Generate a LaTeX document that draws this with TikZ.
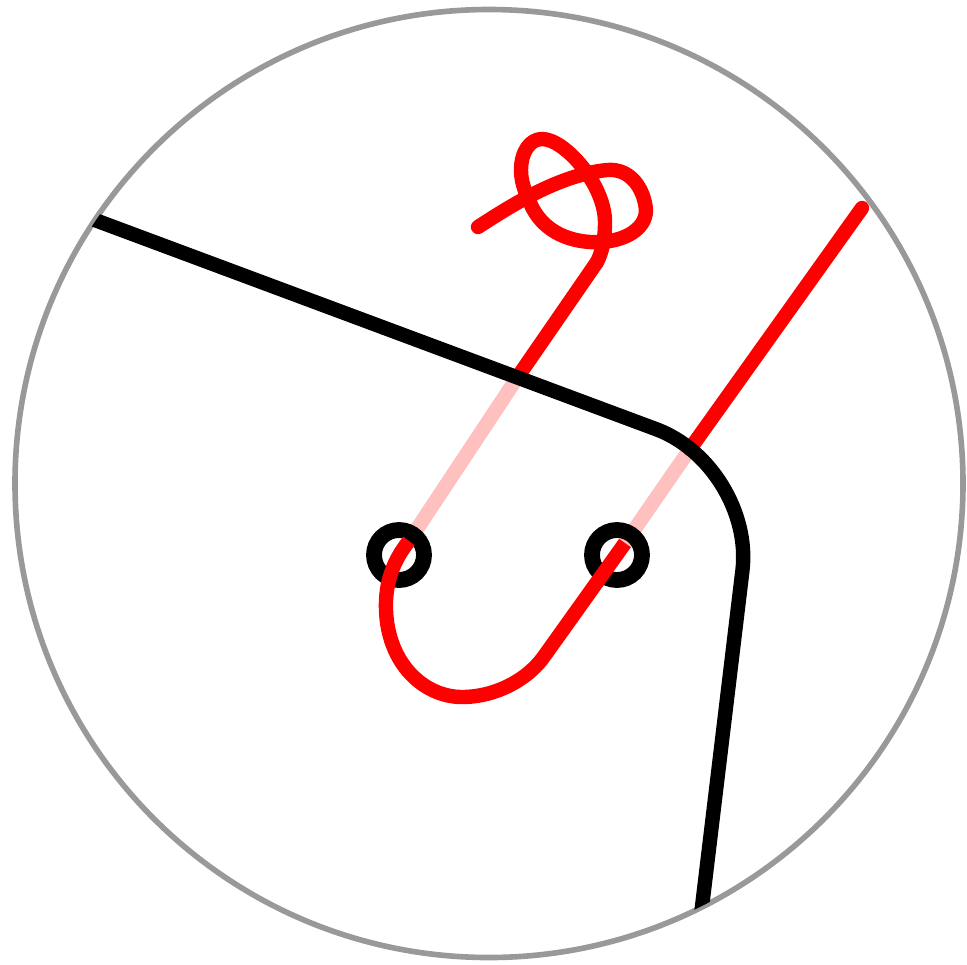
\documentclass[tikz,border=0pt]{standalone}
\usepackage{xcolor}
\usetikzlibrary{positioning}
\definecolor{rimgrey}{HTML}{999999}
\definecolor{threadred}{HTML}{FF0000}
\definecolor{threadpale}{HTML}{FFC0C0}
\tikzset{
  rim/.style={draw=rimgrey, line width=3.2pt},
  skin/.style={draw=black, line width=8.2pt},
  thread/.style={draw=threadred, line width=8.2pt, line join=round},
  threadunder/.style={draw=threadpale, line width=8.2pt},
  hole/.style={circle, draw=black, line width=9pt, minimum size=1cm, inner sep=0pt}
}
\begin{document}
\begin{tikzpicture}[x=0.02cm, y=-0.02cm]
      \useasboundingbox (0,0) rectangle (967,964);
      % coordinates follow the pixels of the picture
      \coordinate (skinA) at (60,207);
      \coordinate (skinB) at (755,466);
      \coordinate (skinC) at (698,940);
      \coordinate (knotEnd) at (517,378);
      \coordinate (leftIn) at (409,541);
      \coordinate (rightIn) at (625,543);
      \coordinate (rightOut) at (690,449);
      \coordinate (tail) at (862,208);
      \node[rim, circle, minimum size=948*0.02cm, inner sep=0pt] (rimcircle) at (489,483.5) {};
      % under the skin
      \draw[threadunder] (knotEnd) -- (leftIn);
      \draw[threadunder] (rightIn) -- (rightOut);
      % above the skin
      \draw[thread, line cap=round] (478,227) .. controls (515,203) and (560,175) .. (607,170)
        .. controls (630,168) and (644,188) .. (646,210)
        .. controls (646,232) and (618,244) .. (590,242)
        .. controls (560,240) and (538,225) .. (529,200)
        .. controls (524,190) and (521,180) .. (521,170)
        .. controls (521,152) and (530,139) .. (542,139)
        .. controls (565,139) and (605,185) .. (605,222)
        .. controls (605,240) and (602,252) .. (597,262);
      \draw[thread] (597,262) -- (knotEnd);
      \draw[thread, line cap=round] (rightOut) -- (tail);
      \begin{scope}
        \clip (489,483.5) circle (473);
        \draw[skin, rounded corners=60pt] (skinA) -- (skinB) -- (skinC);
      \end{scope}
      \node[hole] (holeleft) at (399,555) {};
      \node[hole] (holeright) at (617,555) {};
      % back through the two holes
      \draw[thread] (leftIn) .. controls (392,562) and (385,585) .. (386,610)
        .. controls (388,665) and (425,697) .. (462,697)
        .. controls (495,697) and (528,680) .. (545,655)
        -- (rightIn);
\end{tikzpicture}
\end{document}
